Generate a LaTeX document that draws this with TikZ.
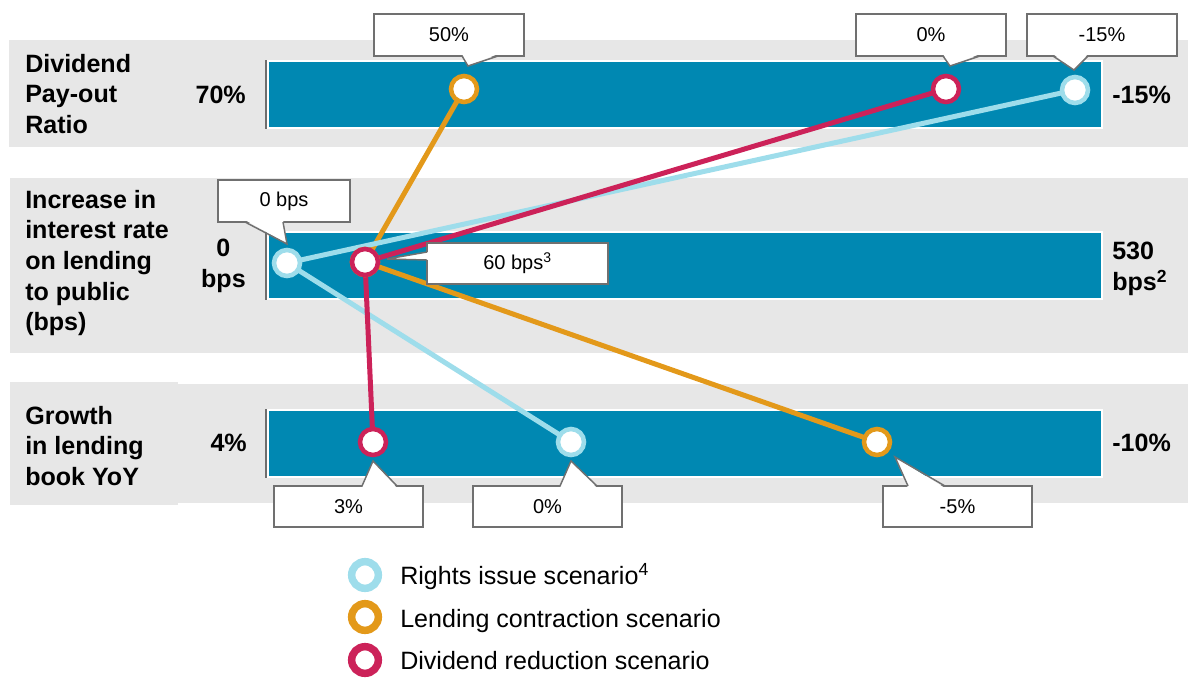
\documentclass[tikz,border=0pt]{standalone}
\usepackage{fontspec}
\setmainfont{Liberation Sans}
\usepackage{tikz}

\definecolor{bandgray}{HTML}{E7E7E7}
\definecolor{barblue}{HTML}{0088B2}
\definecolor{tickgray}{HTML}{6E6E6E}
\definecolor{boxgray}{HTML}{707070}
\definecolor{rightscol}{HTML}{9EDDEB}
\definecolor{lendcol}{HTML}{E3991A}
\definecolor{divcol}{HTML}{CC2259}

\begin{document}
\begin{tikzpicture}[x=0.75pt,y=-0.75pt,
    band/.style={fill=bandgray},
    bar/.style={fill=barblue, draw=white, line width=0.8pt},
    tick/.style={draw=tickgray, line width=1.5pt},
    rowlabel/.style={anchor=west, align=left, inner sep=0pt, font=\fontsize{18.8}{22.9}\selectfont\bfseries},
    endval/.style={inner sep=0pt, font=\fontsize{18.8}{22.9}\selectfont\bfseries},
    series/.style={line width=3.75pt, line join=round, line cap=round},
    dot/.style={circle, fill=white, line width=3.4pt, minimum size=19.5pt, inner sep=0pt},
    callout/.style={draw=boxgray, fill=white, line width=1.1pt, inner sep=0pt,
        font=\fontsize{15}{18}\selectfont},
    pointer/.style={draw=boxgray, line width=1.1pt},
    keydot/.style={circle, fill=white, line width=5.6pt, minimum size=20pt, inner sep=0pt},
    keytext/.style={anchor=base west, inner sep=0pt, font=\fontsize{18.8}{22.9}\selectfont}]
    \useasboundingbox (0,0) rectangle (1188,678);
    % grey bands and bars
    \fill[band] (9,40) rectangle (1188,147);
    \fill[band] (10,178) rectangle (1188,353);
    \fill[band] (10,382) rectangle (178,505);
    \fill[band] (178,384) rectangle (1188,503);
    \draw[bar] (268,61) rectangle (1102,128);
    \draw[bar] (268,232) rectangle (1102,299);
    \draw[bar] (268,410) rectangle (1102,477);
    \foreach \y in {61,232,410}
        \draw[tick] (266,\y-1) -- (266,\y+68);
    % row labels and end values
    \node[rowlabel] (divlabel) at (25,94) {Dividend\\Pay-out\\Ratio};
    \node[rowlabel] (ratelabel) at (25,263) {Increase in\\interest rate\\on lending\\to public\\(bps)};
    \node[rowlabel] (growlabel) at (25,446) {Growth\\in lending\\book YoY};
    \node[endval, anchor=east] (divmin) at (246,95) {70\%};
    \node[endval, anchor=west] (divmax) at (1112,95) {-15\%};
    \node[endval, anchor=east, align=center] (ratemin) at (246,266) {0\\bps};
    \node[endval, anchor=west, align=left] (ratemax) at (1112,269) {530\\bps\textsuperscript{2}};
    \node[endval, anchor=east] (growmin) at (247,443) {4\%};
    \node[endval, anchor=west] (growmax) at (1112,443) {-10\%};
    % scenario points
    \coordinate (lc1) at (464,89);
    \coordinate (lc2) at (365,262);
    \coordinate (lc3) at (877,442);
    \coordinate (ri1) at (1075,90);
    \coordinate (ri2) at (287,263);
    \coordinate (ri3) at (571,442);
    \coordinate (dr1) at (946,89);
    \coordinate (dr2) at (365,262);
    \coordinate (dr3) at (373,442);
    \draw[series, lendcol] (lc1) -- (lc2) -- (lc3);
    \draw[series, rightscol] (ri1) -- (ri2) -- (ri3);
    \draw[series, divcol] (dr1) -- (dr2) -- (dr3);
    \foreach \p in {1,2,3} {
        \node[dot, draw=lendcol] (lcdot\p) at (lc\p) {};
        \node[dot, draw=rightscol] (ridot\p) at (ri\p) {};
        \node[dot, draw=divcol] (drdot\p) at (dr\p) {};
    }
    % callouts
    \node[callout, minimum width=112.5pt, minimum height=31.5pt] (co50) at (449,35) {50\%};
    \fill[white] (462,54) -- (468,66) -- (498,54) -- cycle;
    \draw[pointer] (462,56) -- (468,66) -- (498,56);
    \node[callout, minimum width=112.5pt, minimum height=31.5pt] (cozero) at (931,35) {0\%};
    \fill[white] (943,54) -- (950,66) -- (980,54) -- cycle;
    \draw[pointer] (943,56) -- (950,66) -- (980,56);
    \node[callout, minimum width=112.5pt, minimum height=31.5pt] (cominus) at (1102,35) {-15\%};
    \fill[white] (1053,54) -- (1074,70) -- (1088,54) -- cycle;
    \draw[pointer] (1053,56) -- (1074,70) -- (1088,56);
    \node[callout, minimum width=99pt, minimum height=31.5pt] (cobps) at (284,201) {0 bps};
    \fill[white] (245,220) -- (287,244) -- (283,220) -- cycle;
    \draw[pointer] (245,222) -- (287,244) -- (283,222);
    \node[callout, minimum width=135.75pt, minimum height=30.75pt] (cosixty) at (517.5,263.5) {60 bps\textsuperscript{3}};
    \fill[white] (429,252) -- (387,259) -- (429,260) -- cycle;
    \draw[pointer] (427,252) -- (387,259) -- (427,260);
    \node[callout, minimum width=111.75pt, minimum height=30.75pt] (cothree) at (348.5,506.5) {3\%};
    \fill[white] (362,488) -- (373,461) -- (397,488) -- cycle;
    \draw[pointer] (362,486) -- (373,461) -- (397,486);
    \node[callout, minimum width=111.75pt, minimum height=30.75pt] (cogrow) at (547.5,506.5) {0\%};
    \fill[white] (560,488) -- (571,461) -- (597,488) -- cycle;
    \draw[pointer] (560,486) -- (571,461) -- (597,486);
    \node[callout, minimum width=111.75pt, minimum height=30.75pt] (cofive) at (957.5,506.5) {-5\%};
    \fill[white] (908,488) -- (895,457) -- (945,488) -- cycle;
    \draw[pointer] (908,486) -- (895,457) -- (945,486);
    % legend
    \node[keydot, draw=rightscol] (keyri) at (365,575) {};
    \node[keytext] (keyritext) at (400,584) {Rights issue scenario\textsuperscript{4}};
    \node[keydot, draw=lendcol] (keylc) at (365,617) {};
    \node[keytext] (keylctext) at (400,627) {Lending contraction scenario};
    \node[keydot, draw=divcol] (keydr) at (365,660) {};
    \node[keytext] (keydrtext) at (400,669) {Dividend reduction scenario};
\end{tikzpicture}
\end{document}
